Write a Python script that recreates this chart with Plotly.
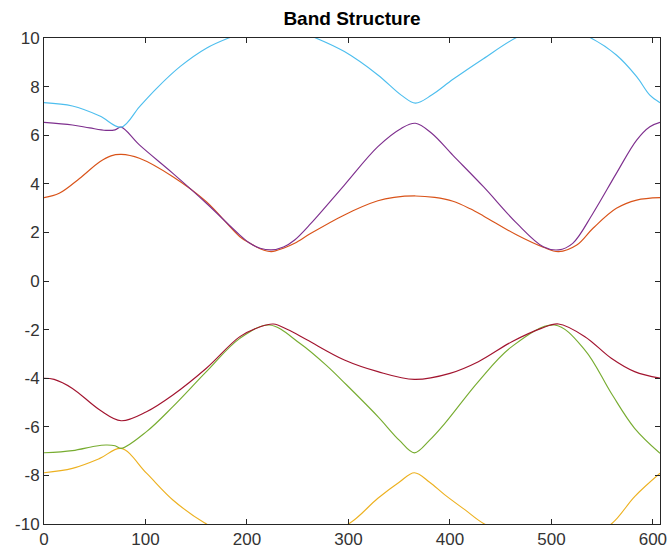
import plotly.graph_objects as go

# Band data (k-index vs energy)
orange_x = [0, 15, 35, 55, 66, 76, 94, 127, 160, 193, 203, 213, 224, 236, 247, 263, 296, 329, 345, 366, 385, 403, 420, 433, 466, 492, 507, 525, 541, 564, 584, 607]
orange_y = [3.43, 3.61, 4.22, 4.91, 5.15, 5.21, 5.05, 4.29, 3.26, 1.82, 1.55, 1.33, 1.21, 1.35, 1.55, 1.96, 2.72, 3.30, 3.44, 3.50, 3.44, 3.28, 2.97, 2.68, 1.89, 1.39, 1.21, 1.48, 2.17, 2.99, 3.33, 3.43]

yellow_x = [0, 28, 55, 76, 101, 127, 158, 190, 226, 262, 300, 329, 350, 365, 380, 395, 415, 434, 470, 500, 530, 559, 582, 607]
yellow_y = [-7.89, -7.71, -7.30, -6.89, -7.91, -9.01, -9.95, -10.6, -10.9, -10.6, -10.0, -8.94, -8.28, -7.89, -8.28, -8.8, -9.42, -10.0, -10.6, -10.8, -10.6, -10.0, -8.87, -7.91]

purple_x = [0, 28, 45, 61, 70, 76, 94, 127, 160, 193, 203, 213, 224, 236, 247, 263, 296, 329, 352, 366, 382, 403, 433, 466, 492, 507, 521, 541, 564, 584, 597, 607]
purple_y = [6.53, 6.42, 6.3, 6.2, 6.22, 6.33, 5.6, 4.43, 3.2, 1.89, 1.55, 1.35, 1.28, 1.4, 1.69, 2.37, 3.95, 5.53, 6.28, 6.49, 6.08, 5.17, 3.88, 2.37, 1.41, 1.28, 1.55, 2.79, 4.43, 5.8, 6.35, 6.53]

green_x = [0, 28, 50, 61, 70, 76, 101, 127, 160, 193, 222, 252, 278, 298, 329, 350, 365, 380, 395, 428, 461, 503, 533, 559, 582, 607]
green_y = [-7.07, -6.98, -6.8, -6.75, -6.78, -6.89, -6.2, -5.17, -3.73, -2.36, -1.81, -2.56, -3.46, -4.27, -5.58, -6.55, -7.07, -6.55, -5.86, -4.14, -2.70, -1.81, -2.84, -4.62, -6.06, -7.09]

cyan_x = [0, 28, 55, 76, 94, 111, 134, 160, 185, 205, 226, 246, 265, 296, 329, 352, 366, 382, 403, 433, 466, 485, 502, 520, 538, 564, 584, 597, 607]
cyan_y = [7.34, 7.2, 6.79, 6.33, 7.17, 7.93, 8.82, 9.58, 10.05, 10.35, 10.45, 10.35, 10.05, 9.44, 8.48, 7.65, 7.32, 7.65, 8.3, 9.15, 10.03, 10.3, 10.4, 10.3, 10.02, 9.3, 8.41, 7.65, 7.34]

red_x = [0, 10, 28, 55, 76, 101, 127, 160, 193, 212, 226, 240, 259, 296, 329, 365, 400, 428, 461, 490, 507, 533, 559, 582, 607]
red_y = [-4.0, -4.05, -4.42, -5.31, -5.75, -5.38, -4.69, -3.59, -2.29, -1.9, -1.77, -2.0, -2.42, -3.25, -3.73, -4.05, -3.8, -3.32, -2.50, -1.95, -1.77, -2.29, -3.18, -3.73, -4.0]

x_ticks = [0, 100, 200, 300, 400, 500, 600]
y_ticks = [-10, -8, -6, -4, -2, 0, 2, 4, 6, 8, 10]
y_ticktext = ["-10", "-8", "-6", "-4", "-2", "0", "2", "4", "6", "8", "10"]

bands = [
    (orange_x, orange_y, "#D95319"),
    (yellow_x, yellow_y, "#EDB120"),
    (purple_x, purple_y, "#7E2F8E"),
    (green_x, green_y, "#77AC30"),
    (cyan_x, cyan_y, "#4DBEEE"),
    (red_x, red_y, "#A2142F"),
]

fig = go.Figure()
for bx, by, col in bands:
    fig.add_trace(go.Scatter(x=bx, y=by, mode="lines",
                             line=dict(color=col, width=1.15, shape="spline", smoothing=1.0),
                             showlegend=False, hoverinfo="skip"))

axis_common = dict(showline=True, linecolor="#262626", linewidth=1, mirror="ticks",
                   ticks="inside", ticklen=5, tickcolor="#262626", showgrid=False,
                   zeroline=False, automargin=False,
                   tickfont=dict(family="Liberation Sans, Arial", size=17, color="#333333"))

fig.update_xaxes(range=[0, 607], tickvals=x_ticks, **axis_common)
fig.update_yaxes(range=[-10, 10], tickvals=y_ticks, ticktext=y_ticktext, **axis_common)

fig.update_layout(
    width=669, height=559,
    margin=dict(l=44, r=9, t=38, b=35),
    plot_bgcolor="white", paper_bgcolor="white",
    title=dict(text="<b>Band Structure</b>", x=0.5, xref="paper", xanchor="center",
               y=1 - 18 / 559, yref="container", yanchor="middle",
               font=dict(family="Liberation Sans, Arial", size=19, color="#000000")),
)

fig.write_html("out.html", config={"displayModeBar": False},
               post_script="document.body.style.margin='0';document.body.style.padding='0';")
